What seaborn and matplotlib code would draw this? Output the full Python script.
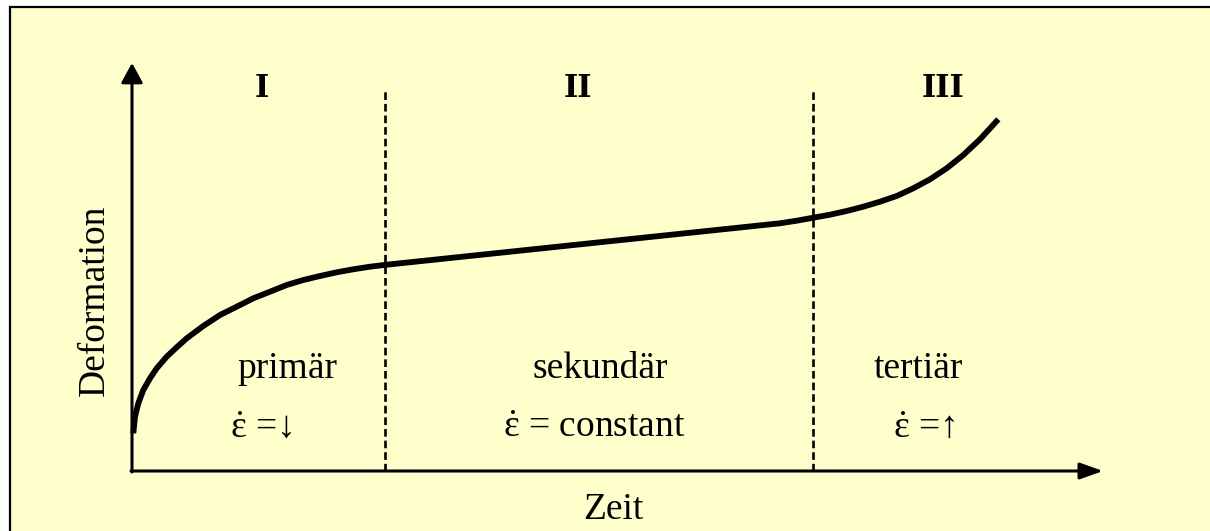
import pandas as pd
import numpy as np
import matplotlib.pyplot as plt
from matplotlib.patches import Rectangle
import seaborn as sns

# creep curve (time / deformation in arbitrary units)
time = [0.013, 0.03, 0.063, 0.113, 0.18, 0.247, 0.347, 0.447, 0.547, 0.713, 0.88,
        1.047, 1.213, 1.38, 1.547, 1.713, 1.88, 2.047, 2.213, 2.38, 2.547,
        6.48, 6.647, 6.813, 6.98, 7.147, 7.313, 7.48, 7.647, 7.813, 7.98,
        8.147, 8.313, 8.48, 8.663]
deformation = [0.377, 0.543, 0.677, 0.81, 0.927, 1.027, 1.143, 1.237, 1.327, 1.45, 1.56,
               1.643, 1.727, 1.793, 1.86, 1.91, 1.95, 1.987, 2.017, 2.043, 2.063,
               2.477, 2.503, 2.533, 2.563, 2.60, 2.643, 2.693, 2.75, 2.827, 2.917,
               3.027, 3.16, 3.317, 3.517]

stage_bounds = [2.53, 6.81]
stage_numbers = ["I", "II", "III"]
stage_names = ["primär", "sekundär", "tertiär"]
stage_rates = [r"$\dot{\varepsilon}$ =↓", r"$\dot{\varepsilon}$ = constant",
               r"$\dot{\varepsilon}$ =↑"]

t_max, d_max = 9.71, 4.08

df = pd.DataFrame({"Zeit": time, "Deformation": deformation})

plt.rcParams['font.family'] = ['Liberation Serif', 'DejaVu Serif']
plt.rcParams['mathtext.fontset'] = 'custom'
plt.rcParams['mathtext.rm'] = 'Liberation Serif'
plt.rcParams['mathtext.it'] = 'Liberation Serif'
plt.rcParams['mathtext.default'] = 'rm'
bg = '#FFFFCC'

fig = plt.figure(figsize=(12.1, 5.31), dpi=100, facecolor='white')
ax = fig.add_axes([0, 0, 1, 1])
ax.set_facecolor('none')
ax.set_xlim(-1.32, 10.78)
ax.set_ylim(-0.6, 4.71)
ax.axis('off')

# yellow panel, only its top and left border are inside the picture
left, top = 10 / 1210, (531 - 7) / 531
ax.add_patch(Rectangle((left, 0), 1 - left, top, transform=ax.transAxes,
                       facecolor=bg, edgecolor='none', zorder=0, clip_on=False))
ax.plot([left, left, 1], [0, top, top], transform=ax.transAxes, color='black',
        lw=1.6, solid_joinstyle='miter', clip_on=False, zorder=1)

# axes with arrow heads
ax.annotate("", xy=(t_max, 0), xytext=(-0.01, 0),
            arrowprops=dict(arrowstyle='-|>,head_length=0.7,head_width=0.25',
                            lw=2.2, color='black', mutation_scale=20, shrinkA=0, shrinkB=0))
ax.annotate("", xy=(0, d_max), xytext=(0, -0.01),
            arrowprops=dict(arrowstyle='-|>,head_length=0.6,head_width=0.33',
                            lw=2.2, color='black', mutation_scale=20, shrinkA=0, shrinkB=0))

ax.vlines(stage_bounds, 0, 3.83, colors='black', lw=1.9, linestyles=(0, (2.9, 1.5)), zorder=2)

sns.lineplot(data=df, x="Zeit", y="Deformation", sort=False, estimator=None,
             color='black', lw=4.2, ax=ax, zorder=3)
ax.lines[-1].set_solid_capstyle('butt')

num_x = [1.30, 4.46, 8.11]
name_x = [1.55, 4.68, 7.86]
rate_x = [0.98, 3.71, 7.61]
for i in range(3):
    ax.text(num_x[i], 3.74, stage_numbers[i], fontsize=22, fontweight='bold',
            family='DejaVu Serif', ha='center', va='baseline')
    ax.text(name_x[i], 0.93, stage_names[i], fontsize=27, ha='center', va='baseline')
    ax.text(rate_x[i], 0.34, stage_rates[i], fontsize=27, ha='left', va='baseline')

ax.text(-0.37, 1.71, "Deformation", fontsize=27, rotation=90, ha='center', va='center')
ax.text(4.81, -0.48, "Zeit", fontsize=27, ha='center', va='baseline')

plt.savefig("out.png", dpi=100, facecolor='white')
